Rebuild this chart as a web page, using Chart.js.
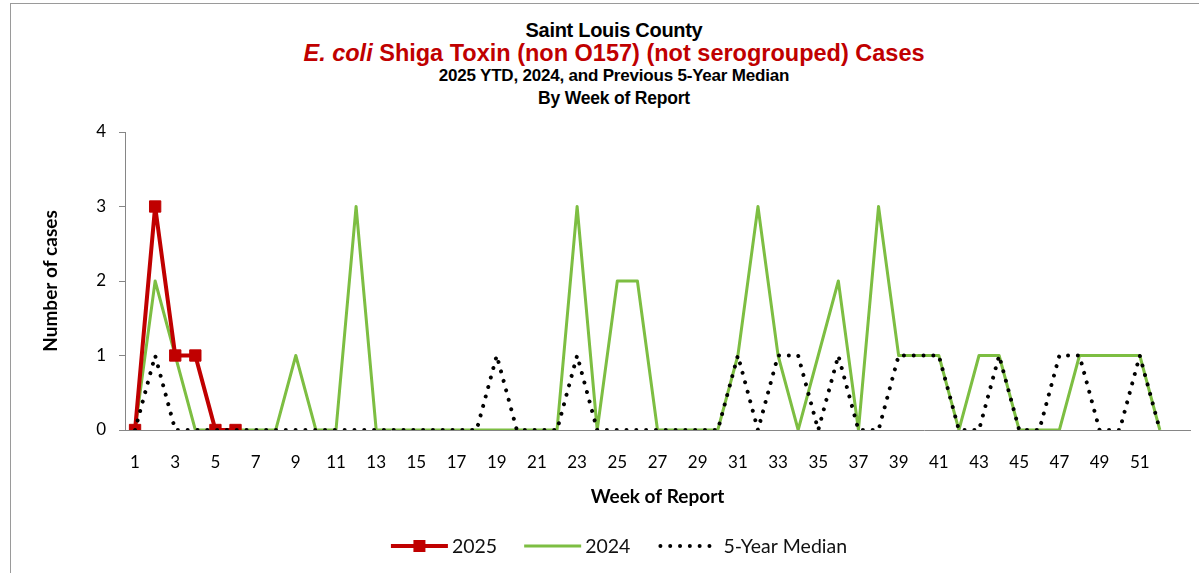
<!DOCTYPE html>
<html>
<head>
<meta charset="utf-8">
<script src="https://cdn.jsdelivr.net/npm/chart.js@4.4.1/dist/chart.umd.min.js"></script>
<style>
html, body { margin: 0; padding: 0; background: #fff; overflow: hidden; }
#wrap { position: relative; width: 1199px; height: 573px; }
#frame { position: absolute; left: 10px; top: 3px; width: 1400px; height: 800px; border-left: 1px solid #9a9a9a; border-top: 1px solid #9a9a9a; }
.t { position: absolute; left: 0; width: 1228px; text-align: center; font-family: 'Liberation Sans', Arial, sans-serif; font-weight: bold; white-space: nowrap; color: #000; }
#t1 { top: 20px; font-size: 20px; line-height: 20px; letter-spacing: -0.3px; }
#t2 { top: 41px; font-size: 23.5px; line-height: 24px; color: #c00000; }
#t3 { top: 67px; font-size: 17px; line-height: 17px; letter-spacing: -0.2px; }
#t4 { top: 89px; font-size: 17.5px; line-height: 18px; letter-spacing: -0.2px; }
canvas { position: absolute; left: 0; top: 0; }
</style>
</head>
<body>
<div id="wrap">
  <div id="frame"></div>
  <div class="t" id="t1">Saint Louis County</div>
  <div class="t" id="t2"><i>E. coli</i> Shiga Toxin (non O157) (not serogrouped) Cases</div>
  <div class="t" id="t3">2025 YTD, 2024, and Previous 5-Year Median</div>
  <div class="t" id="t4">By Week of Report</div>
  <canvas id="chart" width="1199" height="573"></canvas>
</div>
<script>
// week labels (last slot is empty, as in the source chart)
var weeks = ['1','2','3','4','5','6','7','8','9','10','11','12','13','14','15','16','17','18','19','20',
             '21','22','23','24','25','26','27','28','29','30','31','32','33','34','35','36','37','38','39','40',
             '41','42','43','44','45','46','47','48','49','50','51','52',''];
var seriesNames = ['2025', '2024', '5-Year Median'];
var cases2025 = [0,3,1,1,0,0];
var cases2024 = [0,2,1,0,0,0,0,0,1,0, 0,3,0,0,0,0,0,0,0,0,
                 0,0,3,0,2,2,0,0,0,0, 1,3,1,0,1,2,0,3,1,1,
                 1,0,1,1,0,0,0,1,1,1, 1,0];
var median5yr = [0,1,0,0,0,0,0,0,0,0, 0,0,0,0,0,0,0,0,1,0,
                 0,0,1,0,0,0,0,0,0,0, 1,0,1,1,0,1,0,0,1,1,
                 1,0,0,1,0,0,1,1,0,0, 1,0];
var yTicks = [0,1,2,3,4];

var axisGray = '#868686';
var tickFont = { family: 'Lato', size: 17 };
var titleFont = { family: 'Lato', size: 19, weight: 'bold' };

// legend drawn under the plot: line sample (with marker for 2025) + label
var legendPlugin = {
    id: 'bottomLegend',
    afterDraw: function(chart){
        var ctx = chart.ctx;
        var sets = chart.data.datasets;
        var y = 546;
        var lineLen = 57;
        ctx.save();
        ctx.font = '19.5px Lato';
        ctx.textBaseline = 'middle';
        var widths = [];
        var total = 0;
        sets.forEach(function(ds, i){
            var gap = ds.borderDash ? 9 : 4;
            var w = lineLen + gap + ctx.measureText(ds.label).width;
            widths.push(w);
            total += w;
        });
        total += 27 * (sets.length - 1);
        var x = 619 - total / 2;
        sets.forEach(function(ds, i){
            var gap = ds.borderDash ? 9 : 4;
            ctx.beginPath();
            ctx.strokeStyle = ds.borderColor;
            ctx.lineWidth = ds.borderWidth;
            ctx.lineCap = ds.borderDash ? 'round' : 'butt';
            ctx.setLineDash(ds.borderDash ? ds.borderDash : []);
            ctx.moveTo(x + (ds.borderDash ? 3 : 0), y);
            ctx.lineTo(x + lineLen, y);
            ctx.stroke();
            ctx.setLineDash([]);
            if(ds.pointRadius > 0){
                ctx.fillStyle = ds.pointBackgroundColor;
                ctx.fillRect(x + lineLen / 2 - 6, y - 6, 12, 12);
            }
            ctx.fillStyle = '#111';
            ctx.fillText(ds.label, x + lineLen + gap, y + 1);
            x += widths[i] + 27;
        });
        ctx.restore();
    }
};

var myChart = new Chart(document.getElementById('chart'), {
    type: 'line',
    data: {
        labels: weeks,
        datasets: [{
            label: seriesNames[0],
            data: cases2025,
            borderColor: '#c00000',
            backgroundColor: '#c00000',
            borderWidth: 4,
            borderJoinStyle: 'round',
            pointStyle: 'rect',
            pointRadius: 8,
            pointBackgroundColor: '#c00000',
            pointBorderColor: '#c00000',
            pointBorderWidth: 1,
            order: 1
        }, {
            label: seriesNames[1],
            data: cases2024,
            borderColor: '#7dbe42',
            backgroundColor: '#7dbe42',
            borderWidth: 3,
            borderJoinStyle: 'round',
            pointRadius: 0,
            order: 2
        }, {
            label: seriesNames[2],
            data: median5yr,
            borderColor: '#000',
            backgroundColor: '#000',
            borderWidth: 4,
            borderDash: [0.01, 9.8],
            borderCapStyle: 'round',
            pointRadius: 0,
            order: 0
        }]
    },
    options: {
        responsive: false,
        animation: false,
        layout: { padding: { left: 36, top: 132, right: 5, bottom: 62 } },
        plugins: {
            legend: { display: false },
            tooltip: { enabled: false },
            title: { display: false }
        },
        scales: {
            x: {
                type: 'category',
                offset: true,
                grid: { display: false },
                border: { color: axisGray, width: 1 },
                ticks: {
                    autoSkip: false,
                    maxRotation: 0,
                    padding: 14,
                    color: '#000',
                    font: tickFont,
                    callback: function(v, i){
                        return i % 2 === 0 ? this.getLabelForValue(v) : '';
                    }
                },
                title: { display: true, text: 'Week of Report', color: '#000', font: titleFont, padding: { top: 6, bottom: 3 } },
                afterFit: function(s){ s.height = 81; }
            },
            y: {
                min: yTicks[0],
                max: yTicks[yTicks.length - 1],
                grid: { drawOnChartArea: false, tickLength: 6, color: axisGray },
                border: { color: axisGray, width: 1 },
                ticks: { stepSize: 1, padding: 13, color: '#000', font: tickFont },
                title: { display: true, text: 'Number of cases', color: '#000', font: titleFont, padding: { top: 3, bottom: 4 } },
                afterFit: function(s){ s.width = 89; }
            }
        }
    },
    plugins: [legendPlugin]
});
</script>
</body>
</html>
